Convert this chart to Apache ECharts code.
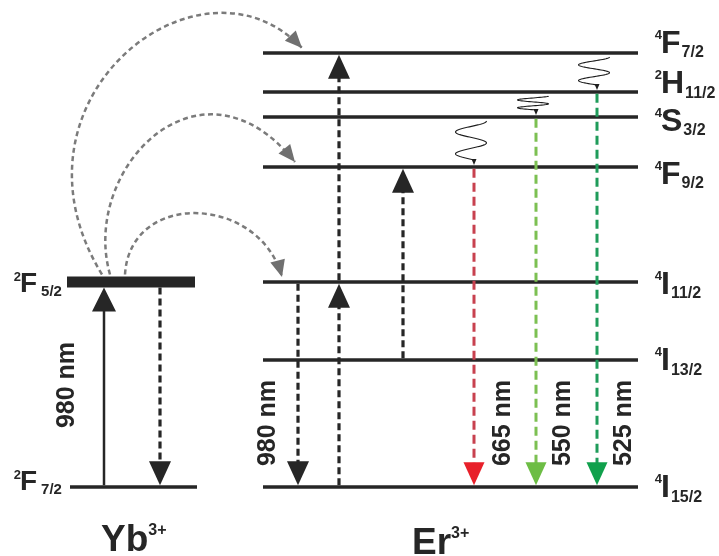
<!DOCTYPE html>
<html>
<head>
<meta charset="utf-8">
<title>Yb3+ / Er3+ upconversion energy levels</title>
<script src="https://cdn.jsdelivr.net/npm/echarts@6/dist/echarts.min.js"></script>
<style>
  html, body { margin: 0; padding: 0; background: #ffffff; }
  #chart { width: 719px; height: 556px; }
</style>
</head>
<body>
<div id="chart"></div>
<script>
// ---------------- Data ----------------
// Yb3+ levels (diagram energy units, ground state = 0)
const ybMult   = ['2', '2'];
const ybL      = ['F', 'F'];
const ybJ      = ['7/2', '5/2'];
const ybEnergy = [0, 205];

// Er3+ levels
const erMult   = ['4', '4', '4', '4', '4', '2', '4'];
const erL      = ['I', 'I', 'I', 'F', 'S', 'H', 'F'];
const erJ      = ['15/2', '13/2', '11/2', '9/2', '3/2', '11/2', '7/2'];
const erEnergy = [0, 127, 205, 320, 370, 395, 434];

// Vertical transitions (absorption, transfer partners, emission)
const radIon   = ['Yb', 'Yb', 'Er', 'Er', 'Er', 'Er', 'Er', 'Er', 'Er'];
const radFrom  = ['2F7/2', '2F5/2', '4I11/2', '4I15/2', '4I11/2', '4I13/2', '4F9/2', '4S3/2', '2H11/2'];
const radTo    = ['2F5/2', '2F7/2', '4I15/2', '4I11/2', '4F7/2', '4F9/2', '4I15/2', '4I15/2', '4I15/2'];
const radLabel = ['980 nm', '', '980 nm', '', '', '', '665 nm', '550 nm', '525 nm'];

// Yb -> Er energy transfer
const etFrom = ['2F5/2', '2F5/2', '2F5/2'];
const etTo   = ['4F7/2', '4F9/2', '4I11/2'];

// Er non-radiative relaxation
const nrFrom = ['4F7/2', '2H11/2', '4S3/2'];
const nrTo   = ['2H11/2', '4S3/2', '4F9/2'];

// Ion names under each column
const ionName   = ['Yb', 'Er'];
const ionCharge = ['3+', '3+'];

// ---------------- Layout & styles ----------------
const FONT = '"Liberation Sans", Arial, Helvetica, sans-serif';
const INK = '#262626';

const LAYOUT = {
  ybSpan: [[70, 197], [67, 195]],
  ybThick: [3.5, 11],
  erSpan: [263, 638],
  erThick: 3.5,
  ybLabelX: 20, erLabelX: 661,
  ybLabelDy: [-4.5, 2.5],
  erLabelDy: [1.5, 1.5, 3, 8, 5, -7.5, -9],
  ybTermSize: { sup: 13, main: 28, sub: 15, subGap: 4, subDrop: 3 },
  erTermSize: { sup: 13, main: 32, sub: 16, subGap: 1, subDrop: 3 },
  radX: [104, 160, 298, 339, 339, 403, 474, 536, 597],
  radStyle: ['solid', 'dash', 'dash', 'dash', 'dash', 'dash', 'red', 'lgreen', 'dgreen'],
  radLabelX: [67.5, 0, 268, 0, 0, 0, 503.5, 563.5, 624.5],
  radLabelE: [102, 0, 64, 0, 0, 0, 64, 64, 64],
  etStartX: [102, 110, 125],
  etEndX: [302, 295, 282],
  etC1: [[-107, -175], [-30, -105], [5, -85]],
  etC2: [[-102, -108], [-95, -118], [-22, -82]],
  nrX: [597, 536, 474],
  titleX: [101, 412],
  titleE: [-54, -57],
  titleSize: 37, titleSup: 16
};

const STYLES = {
  solid:  { line: INK, head: INK, width: 2.5, dash: null, hw: 24, hl: 24 },
  dash:   { line: INK, head: INK, width: 3.2, dash: [7, 4], hw: 22, hl: 24 },
  red:    { line: '#c8414f', head: '#e8202a', width: 3, dash: [9, 5], hw: 21, hl: 23 },
  lgreen: { line: '#7cc052', head: '#6dbd45', width: 3, dash: [9, 5], hw: 21, hl: 23 },
  dgreen: { line: '#1f9c5a', head: '#10a04c', width: 3, dash: [9, 5], hw: 21, hl: 23 }
};

// ---------------- Helpers ----------------
const levels = [];
ybEnergy.forEach((E, i) => levels.push({ ion: 'Yb', idx: i, mult: ybMult[i], L: ybL[i], J: ybJ[i], E }));
erEnergy.forEach((E, i) => levels.push({ ion: 'Er', idx: i, mult: erMult[i], L: erL[i], J: erJ[i], E }));

function findLevel(ion, term) {
  return levels.find(l => l.ion === ion && (l.mult + l.L + l.J) === term);
}
function thicknessOf(lv) {
  return lv.ion === 'Yb' ? LAYOUT.ybThick[lv.idx] : LAYOUT.erThick;
}

const mctx = document.createElement('canvas').getContext('2d');
function textWidth(str, size) {
  mctx.font = 'bold ' + size + 'px ' + FONT;
  return mctx.measureText(str).width;
}
function font(size) { return 'bold ' + size + 'px ' + FONT; }

// Term symbol ^{mult}L_{J}; cy is the centre of the capital letter
function termSymbol(mult, L, J, mainX, cy, sz) {
  const capTop = cy - 0.358 * sz.main;
  const base = cy + 0.358 * sz.main;
  const subX = mainX + textWidth(L, sz.main) + sz.subGap;
  return [
    { type: 'text', style: { text: mult, x: mainX + 1, y: capTop + 0.358 * sz.sup - 2, font: font(sz.sup), fill: INK, align: 'right', verticalAlign: 'middle' } },
    { type: 'text', style: { text: L, x: mainX, y: cy, font: font(sz.main), fill: INK, align: 'left', verticalAlign: 'middle' } },
    { type: 'text', style: { text: J, x: subX, y: base + sz.subDrop - 0.358 * sz.sub, font: font(sz.sub), fill: INK, align: 'left', verticalAlign: 'middle' } }
  ];
}

function arrowHead(tipX, tipY, dx, dy, len, wid, color) {
  const n = Math.hypot(dx, dy);
  const ux = dx / n, uy = dy / n;
  const bx = tipX - ux * len, by = tipY - uy * len;
  const px = -uy * wid / 2, py = ux * wid / 2;
  return { type: 'polygon', shape: { points: [[tipX, tipY], [bx + px, by + py], [bx - px, by - py]] }, style: { fill: color } };
}

// ---------------- Renderers ----------------
function renderLevel(params, api) {
  const lv = levels[params.dataIndex];
  const span = lv.ion === 'Yb' ? LAYOUT.ybSpan[lv.idx] : LAYOUT.erSpan;
  const t = thicknessOf(lv);
  const a = api.coord([span[0], lv.E]);
  const b = api.coord([span[1], lv.E]);
  const children = [
    { type: 'rect', shape: { x: a[0], y: a[1] - t / 2, width: b[0] - a[0], height: t }, style: { fill: INK } }
  ];
  const isYb = lv.ion === 'Yb';
  const dy = isYb ? LAYOUT.ybLabelDy[lv.idx] : LAYOUT.erLabelDy[lv.idx];
  const sz = isYb ? LAYOUT.ybTermSize : LAYOUT.erTermSize;
  const lx = isYb ? LAYOUT.ybLabelX : LAYOUT.erLabelX;
  children.push(...termSymbol(lv.mult, lv.L, lv.J, lx, a[1] + dy, sz));
  return { type: 'group', children };
}

function renderRad(params, api) {
  const i = params.dataIndex;
  const x = LAYOUT.radX[i];
  const from = findLevel(radIon[i], radFrom[i]);
  const to = findLevel(radIon[i], radTo[i]);
  const st = STYLES[LAYOUT.radStyle[i]];
  const p0 = api.coord([x, from.E]);
  const p1 = api.coord([x, to.E]);
  const up = to.E > from.E;
  const dir = up ? -1 : 1;
  const tipY = p1[1] - dir * thicknessOf(to) / 2;
  const startY = p0[1] + dir * thicknessOf(from) / 2;
  const endY = tipY - dir * (st.hl - 3);
  const children = [
    { type: 'line', shape: { x1: p0[0], y1: startY, x2: p0[0], y2: endY },
      style: { stroke: st.line, lineWidth: st.width, lineDash: st.dash, fill: 'none' } },
    arrowHead(p0[0], tipY, 0, dir, st.hl, st.hw, st.head)
  ];
  if (radLabel[i]) {
    const lp = api.coord([LAYOUT.radLabelX[i], LAYOUT.radLabelE[i]]);
    children.push({ type: 'text', x: lp[0], y: lp[1], rotation: Math.PI / 2,
      style: { text: radLabel[i], x: 0, y: 0, font: font(25), fill: INK, align: 'center', verticalAlign: 'middle' } });
  }
  return { type: 'group', children };
}

function renderTransfer(params, api) {
  const i = params.dataIndex;
  const from = findLevel('Yb', etFrom[i]);
  const to = findLevel('Er', etTo[i]);
  const s = api.coord([LAYOUT.etStartX[i], from.E]);
  const e = api.coord([LAYOUT.etEndX[i], to.E]);
  const sy = s[1] - thicknessOf(from) / 2 - 2;
  const ey = e[1] - 5;
  const c1 = [s[0] + LAYOUT.etC1[i][0], sy + LAYOUT.etC1[i][1]];
  const c2 = [e[0] + LAYOUT.etC2[i][0], ey + LAYOUT.etC2[i][1]];
  return { type: 'group', children: [
    { type: 'bezierCurve', shape: { x1: s[0], y1: sy, x2: e[0], y2: ey, cpx1: c1[0], cpy1: c1[1], cpx2: c2[0], cpy2: c2[1] },
      style: { stroke: '#7b7b7b', lineWidth: 2.5, lineDash: [5, 3.5], fill: 'none' } },
    arrowHead(e[0], ey, e[0] - c2[0], ey - c2[1], 17, 15, '#707070')
  ] };
}

function renderRelax(params, api) {
  const i = params.dataIndex;
  const from = findLevel('Er', nrFrom[i]);
  const to = findLevel('Er', nrTo[i]);
  const x = LAYOUT.nrX[i];
  const top = api.coord([x, from.E]);
  const bot = api.coord([x, to.E]);
  const y0 = top[1] + 4;
  const tipY = bot[1] - 2;
  const cx = top[0] - 3, amp = 15.5;
  // sinuous path: two swings, finishing on the emission column
  const sEnd = (4 * Math.PI - Math.acos(3 / amp)) / (4 * Math.PI);
  const pts = [];
  const n = 80;
  for (let k = 0; k <= n; k++) {
    const s = sEnd * k / n;
    pts.push([cx + amp * Math.cos(4 * Math.PI * s), y0 + (tipY - 5 - y0) * (k / n)]);
  }
  pts.push([top[0], tipY - 3]);
  return { type: 'group', children: [
    { type: 'polyline', shape: { points: pts, smooth: 0 }, style: { stroke: '#1e1e1e', lineWidth: 1.1, fill: 'none' } },
    arrowHead(top[0], tipY, 0, 1, 6, 5, '#1e1e1e')
  ] };
}

function renderTitle(params, api) {
  const i = params.dataIndex;
  const p = api.coord([LAYOUT.titleX[i], LAYOUT.titleE[i]]);
  const main = LAYOUT.titleSize, sup = LAYOUT.titleSup;
  const capTop = p[1] - 0.358 * main;
  return { type: 'group', children: [
    { type: 'text', style: { text: ionName[i], x: p[0], y: p[1], font: font(main), fill: INK, align: 'left', verticalAlign: 'middle' } },
    { type: 'text', style: { text: ionCharge[i], x: p[0] + textWidth(ionName[i], main), y: capTop - 3 + 0.358 * sup, font: font(sup), fill: INK, align: 'left', verticalAlign: 'middle' } }
  ] };
}

// ---------------- Chart ----------------
const chart = echarts.init(document.getElementById('chart'), null, { renderer: 'canvas' });

chart.setOption({
  animation: false,
  backgroundColor: '#ffffff',
  grid: { left: 0, right: 0, top: 0, bottom: 0 },
  xAxis: { type: 'value', min: 0, max: 719, show: false },
  yAxis: { type: 'value', min: -69, max: 487, show: false },
  series: [
    { type: 'custom', name: 'transfer', clip: false, renderItem: renderTransfer, data: etFrom.map((_, i) => [i]), z: 1 },
    { type: 'custom', name: 'levels', clip: false, renderItem: renderLevel, data: levels.map((_, i) => [i]), z: 2 },
    { type: 'custom', name: 'transitions', clip: false, renderItem: renderRad, data: radFrom.map((_, i) => [i]), z: 3 },
    { type: 'custom', name: 'relaxation', clip: false, renderItem: renderRelax, data: nrFrom.map((_, i) => [i]), z: 4 },
    { type: 'custom', name: 'ions', clip: false, renderItem: renderTitle, data: ionName.map((_, i) => [i]), z: 5 }
  ]
});
</script>
</body>
</html>
